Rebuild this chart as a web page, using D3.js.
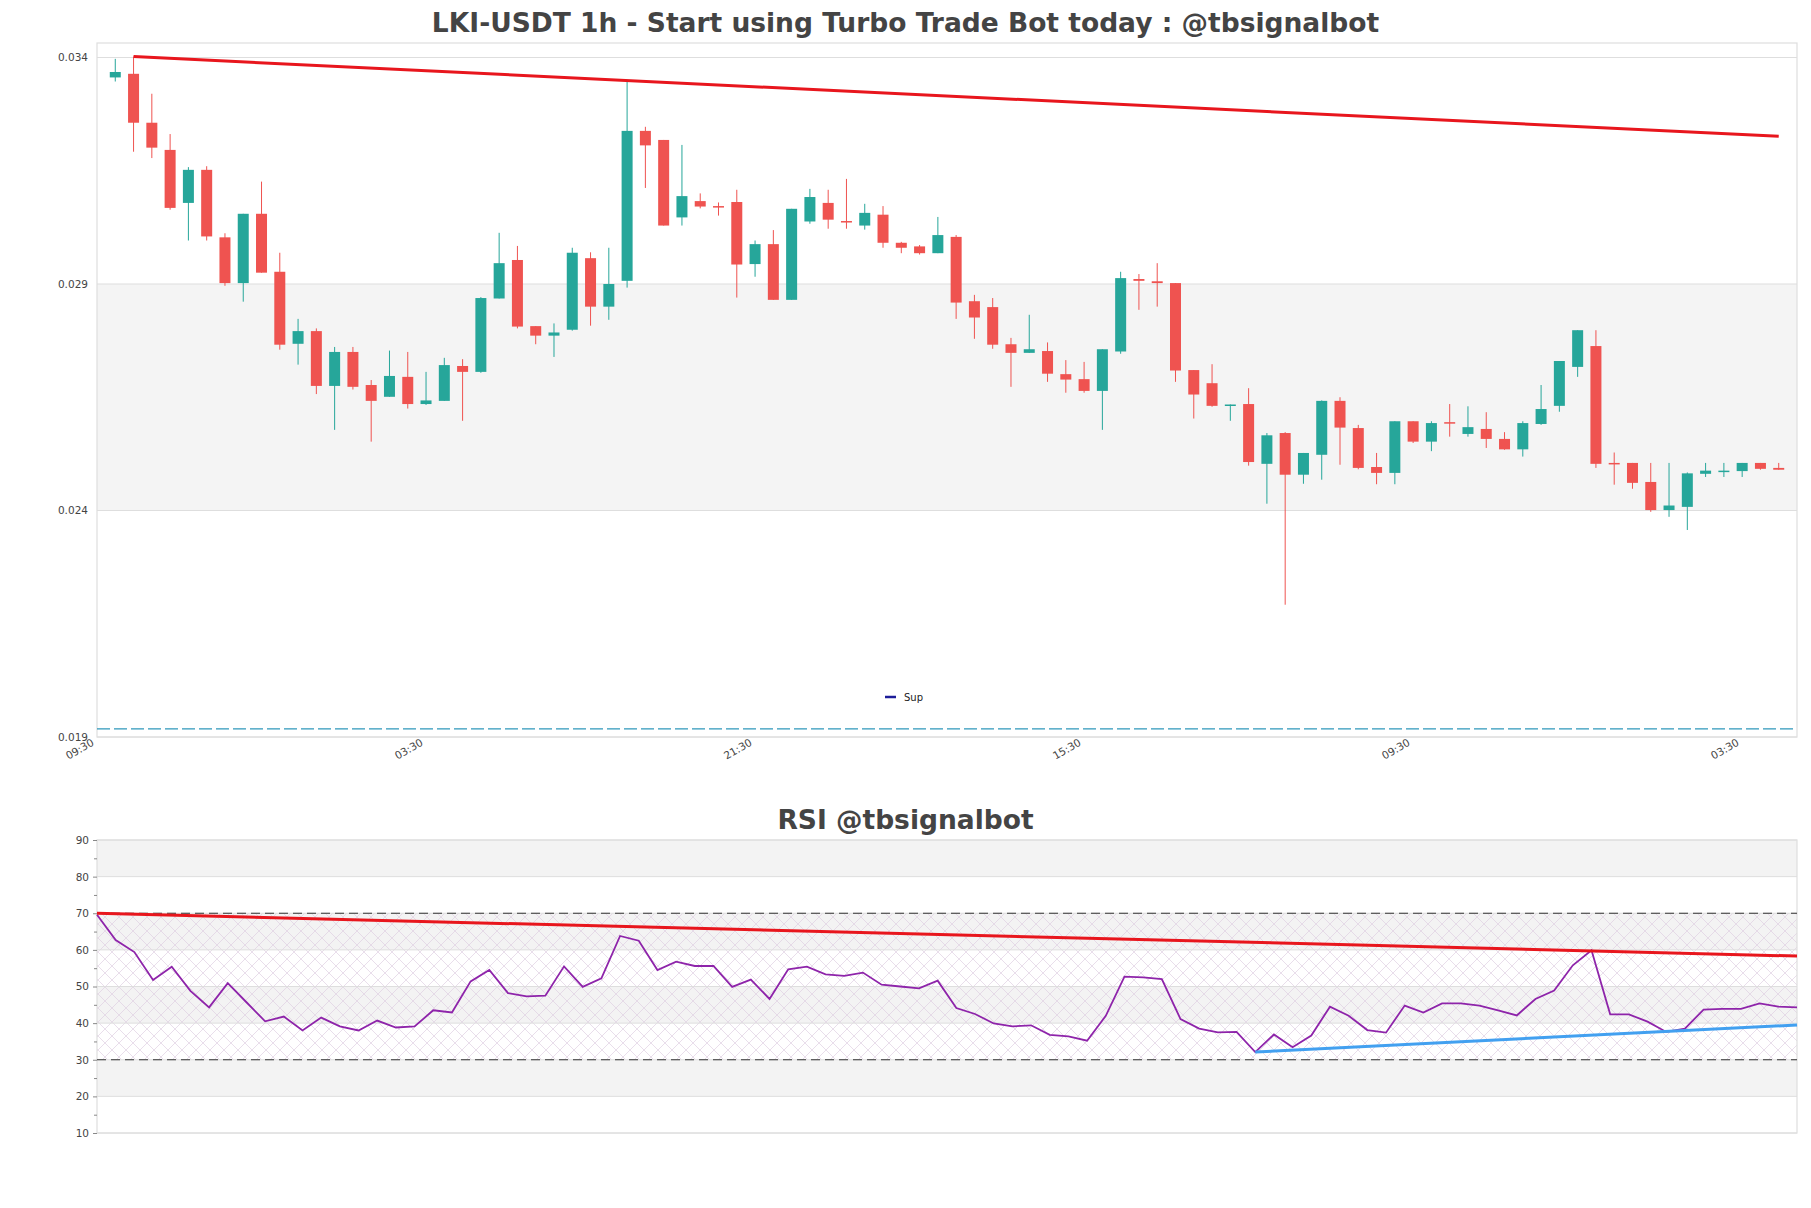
<!DOCTYPE html>
<html>
<head>
<meta charset="utf-8">
<script src="https://cdn.jsdelivr.net/npm/d3@7"></script>
<style>
    body { margin: 0; background: #fff; }
    svg { display: block; font-family: "DejaVu Sans", sans-serif; }
</style>
</head>
<body>
<svg id="chart" width="1811" height="1208"></svg>
<script>
'use strict';

// candle index 0 sits on the 09:30 tick, first candle is at index 1
let candleIndex = d3.range(1, 93)

let openPrices = [
    0.03356, 0.03364, 0.03256, 0.03196, 0.03079, 0.03152, 0.03003, 0.02902, 0.03055, 0.02927,
    0.02768, 0.02796, 0.02675, 0.02750, 0.02677, 0.02651, 0.02695, 0.02635, 0.02642, 0.02719,
    0.02706, 0.02868, 0.02953, 0.02807, 0.02786, 0.02799, 0.02957, 0.02850, 0.02907, 0.03238,
    0.03218, 0.03047, 0.03083, 0.03072, 0.03081, 0.02944, 0.02988, 0.02865, 0.03038, 0.03079,
    0.03039, 0.03029, 0.03053, 0.02991, 0.02983, 0.02968, 0.03004, 0.02862, 0.02849, 0.02767,
    0.02748, 0.02752, 0.02701, 0.02690, 0.02664, 0.02751, 0.02911, 0.02906, 0.02902, 0.02710,
    0.02681, 0.02632, 0.02635, 0.02503, 0.02571, 0.02479, 0.02523, 0.02642, 0.02582, 0.02496,
    0.02483, 0.02597, 0.02552, 0.02595, 0.02569, 0.02580, 0.02558, 0.02535, 0.02591, 0.02631,
    0.02717, 0.02763, 0.02505, 0.02505, 0.02463, 0.02401, 0.02408, 0.02481, 0.02485, 0.02487,
    0.02505, 0.02494
]
let highPrices = [
    0.03397, 0.03402, 0.03320, 0.03231, 0.03158, 0.03160, 0.03012, 0.03055, 0.03126, 0.02969,
    0.02823, 0.02802, 0.02761, 0.02761, 0.02688, 0.02753, 0.02750, 0.02706, 0.02737, 0.02734,
    0.02871, 0.03013, 0.02984, 0.02807, 0.02813, 0.02980, 0.02970, 0.02980, 0.03347, 0.03247,
    0.03218, 0.03207, 0.03100, 0.03080, 0.03108, 0.02996, 0.03019, 0.03066, 0.03110, 0.03108,
    0.03132, 0.03077, 0.03072, 0.02993, 0.02986, 0.03048, 0.03008, 0.02876, 0.02869, 0.02781,
    0.02832, 0.02771, 0.02732, 0.02728, 0.02756, 0.02927, 0.02922, 0.02946, 0.02902, 0.02710,
    0.02723, 0.02634, 0.02670, 0.02571, 0.02573, 0.02527, 0.02643, 0.02650, 0.02589, 0.02527,
    0.02597, 0.02597, 0.02597, 0.02635, 0.02630, 0.02617, 0.02573, 0.02597, 0.02677, 0.02730,
    0.02798, 0.02798, 0.02528, 0.02505, 0.02505, 0.02505, 0.02484, 0.02505, 0.02505, 0.02505,
    0.02505, 0.02505
]
let lowPrices = [
    0.03347, 0.03192, 0.03178, 0.03064, 0.02996, 0.02996, 0.02896, 0.02861, 0.02925, 0.02755,
    0.02722, 0.02657, 0.02578, 0.02667, 0.02552, 0.02651, 0.02625, 0.02633, 0.02642, 0.02598,
    0.02704, 0.02868, 0.02802, 0.02767, 0.02739, 0.02797, 0.02808, 0.02821, 0.02892, 0.03112,
    0.03029, 0.03029, 0.03067, 0.03051, 0.02870, 0.02916, 0.02865, 0.02865, 0.03033, 0.03022,
    0.03022, 0.03020, 0.02980, 0.02968, 0.02965, 0.02968, 0.02823, 0.02779, 0.02757, 0.02673,
    0.02748, 0.02684, 0.02660, 0.02660, 0.02578, 0.02746, 0.02843, 0.02850, 0.02684, 0.02603,
    0.02629, 0.02598, 0.02499, 0.02415, 0.02192, 0.02459, 0.02468, 0.02501, 0.02491, 0.02458,
    0.02458, 0.02549, 0.02531, 0.02563, 0.02563, 0.02538, 0.02534, 0.02519, 0.02589, 0.02618,
    0.02695, 0.02494, 0.02457, 0.02448, 0.02397, 0.02386, 0.02357, 0.02474, 0.02474, 0.02474,
    0.02490, 0.02490
]
let closePrices = [
    0.03368, 0.03256, 0.03201, 0.03068, 0.03152, 0.03005, 0.02902, 0.03055, 0.02925, 0.02766,
    0.02796, 0.02675, 0.02750, 0.02673, 0.02642, 0.02697, 0.02635, 0.02643, 0.02721, 0.02706,
    0.02869, 0.02946, 0.02806, 0.02786, 0.02793, 0.02969, 0.02850, 0.02900, 0.03238, 0.03206,
    0.03029, 0.03094, 0.03071, 0.03069, 0.02943, 0.02988, 0.02865, 0.03066, 0.03092, 0.03042,
    0.03036, 0.03057, 0.02991, 0.02980, 0.02968, 0.03008, 0.02859, 0.02826, 0.02766, 0.02748,
    0.02756, 0.02702, 0.02689, 0.02664, 0.02756, 0.02913, 0.02907, 0.02902, 0.02709, 0.02656,
    0.02631, 0.02634, 0.02507, 0.02566, 0.02479, 0.02527, 0.02642, 0.02583, 0.02494, 0.02483,
    0.02597, 0.02552, 0.02593, 0.02594, 0.02584, 0.02558, 0.02535, 0.02593, 0.02624, 0.02730,
    0.02798, 0.02503, 0.02503, 0.02461, 0.02401, 0.02411, 0.02482, 0.02488, 0.02488, 0.02505,
    0.02492, 0.02490
]

let rsiValues = [
    69.6, 62.7, 59.4, 51.8, 55.4, 48.8, 44.3, 50.9, 45.7, 40.5,
    41.8, 38.0, 41.5, 39.1, 38.0, 40.7, 38.8, 39.1, 43.5, 42.9,
    51.4, 54.5, 48.2, 47.3, 47.5, 55.5, 49.9, 52.2, 63.8, 62.5,
    54.5, 56.8, 55.6, 55.6, 49.9, 51.9, 46.6, 54.7, 55.4, 53.3,
    52.9, 53.8, 50.5, 50.0, 49.5, 51.6, 44.1, 42.5, 39.9, 39.1,
    39.4, 36.8, 36.4, 35.2, 42.0, 52.7, 52.5, 52.0, 41.1, 38.5,
    37.5, 37.6, 32.1, 36.9, 33.4, 36.6, 44.5, 42.0, 38.1, 37.4,
    44.8, 42.9, 45.4, 45.4, 44.8, 43.5, 42.1, 46.6, 48.9, 55.8,
    59.9, 42.4, 42.4, 40.4, 37.6, 38.5, 43.7, 43.9, 43.9, 45.4,
    44.5, 44.3
]

let xTickIndex = [0, 18, 36, 54, 72, 90]
let xTickLabels = ['09:30', '03:30', '21:30', '15:30', '09:30', '03:30']
let priceTicks = [0.019, 0.024, 0.029, 0.034]
let priceBand = [0.024, 0.029]
let supportLevel = 0.01918

// resistance line over the highs
let priceTrendX = [2, 92]
let priceTrendY = [0.03402, 0.03226]

let rsiTicks = [10, 20, 30, 40, 50, 60, 70, 80, 90]
let rsiBands = [[80, 90], [60, 70], [40, 50], [20, 30]]
let rsiLevels = [30, 70]
let rsiResistX = [0, 91]
let rsiResistY = [70, 58.3]
let rsiSupportX = [62, 91]
let rsiSupportY = [32.1, 39.5]

let upColor = '#26a69a'
let downColor = '#ef5350'
let gridColor = '#dedede'
let textColor = '#444'

let svg = d3.select('#chart')

let left = 97, right = 1797

function drawPriceChart() {
    let top = 43, bottom = 737
    let x = d3.scaleLinear().domain([0, 93]).range([left, right])
    let y = d3.scaleLinear().domain([0.019, 0.03432]).range([bottom, top])

    let g = svg.append('g')

    g.append('rect')
        .attr('x', left).attr('width', right - left)
        .attr('y', y(priceBand[1])).attr('height', y(priceBand[0]) - y(priceBand[1]))
        .attr('fill', '#f4f4f4')

    g.selectAll('.grid')
        .data(priceTicks)
        .enter().append('line')
        .attr('x1', left).attr('x2', right)
        .attr('y1', d => y(d)).attr('y2', d => y(d))
        .attr('stroke', gridColor).attr('stroke-width', 1)

    g.append('rect')
        .attr('x', left).attr('y', top)
        .attr('width', right - left).attr('height', bottom - top)
        .attr('fill', 'none').attr('stroke', gridColor).attr('stroke-width', 1.2)

    let yAxis = d3.axisLeft(y)
        .tickValues(priceTicks)
        .tickFormat(d3.format('.3f'))
        .tickSize(0)
        .tickPadding(9)
    g.append('g')
        .attr('transform', 'translate(' + left + ',0)')
        .call(yAxis)
        .call(a => a.select('.domain').remove())
        .selectAll('text')
        .attr('fill', textColor)
        .style('font-size', '10.5px')
        .style('font-family', '"DejaVu Sans", sans-serif')

    let xAxis = d3.axisBottom(x)
        .tickValues(xTickIndex)
        .tickFormat((d, i) => xTickLabels[i])
        .tickSize(0)
        .tickPadding(5)
    g.append('g')
        .attr('transform', 'translate(0,' + bottom + ')')
        .call(xAxis)
        .call(a => a.select('.domain').remove())
        .selectAll('text')
        .attr('fill', textColor)
        .style('font-size', '10.5px')
        .style('font-family', '"DejaVu Sans", sans-serif')
        .style('text-anchor', 'end')
        .attr('dy', '0.7em')
        .attr('transform', 'translate(-9,-3) rotate(-30)')

    // support level
    g.append('line')
        .attr('x1', left).attr('x2', right)
        .attr('y1', y(supportLevel)).attr('y2', y(supportLevel))
        .attr('stroke', '#2f98bb').attr('stroke-width', 1.3)
        .attr('stroke-dasharray', '13,4')

    let bodyWidth = 11
    let candles = g.append('g').attr('class', 'candles')
        .selectAll('g')
        .data(candleIndex)
        .enter().append('g')

    candles.append('line')
        .attr('x1', d => x(d)).attr('x2', d => x(d))
        .attr('y1', (d, i) => y(highPrices[i]))
        .attr('y2', (d, i) => y(lowPrices[i]))
        .attr('stroke', (d, i) => closePrices[i] >= openPrices[i] ? upColor : downColor)
        .attr('stroke-width', 1)

    candles.append('rect')
        .attr('x', d => x(d) - bodyWidth / 2)
        .attr('width', bodyWidth)
        .attr('y', (d, i) => y(Math.max(openPrices[i], closePrices[i])))
        .attr('height', (d, i) => Math.max(1.5, Math.abs(y(openPrices[i]) - y(closePrices[i]))))
        .attr('fill', (d, i) => closePrices[i] >= openPrices[i] ? upColor : downColor)

    g.append('line')
        .attr('x1', x(priceTrendX[0])).attr('y1', y(priceTrendY[0]))
        .attr('x2', x(priceTrendX[1])).attr('y2', y(priceTrendY[1]))
        .attr('stroke', '#e8161d').attr('stroke-width', 3)

    // legend
    let legend = g.append('g').attr('transform', 'translate(885,697)')
    legend.append('line')
        .attr('x1', 0).attr('x2', 11).attr('y1', 0).attr('y2', 0)
        .attr('stroke', '#1d1d99').attr('stroke-width', 2.5)
    legend.append('text')
        .attr('x', 19).attr('y', 3.5)
        .attr('font-size', '10px').attr('fill', '#222')
        .text('Sup')

    svg.append('text')
        .attr('x', 905.5).attr('y', 32)
        .attr('text-anchor', 'middle')
        .attr('font-size', '26.5px').attr('font-weight', 'bold')
        .attr('fill', textColor)
        .text('LKI-USDT 1h - Start using Turbo Trade Bot today : @tbsignalbot')
}

function drawRsiChart() {
    let top = 840, bottom = 1133
    let x = d3.scaleLinear().domain([0, rsiValues.length - 1]).range([left, right])
    let y = d3.scaleLinear().domain([10, 90]).range([bottom, top])

    let defs = svg.append('defs')
    let pattern = defs.append('pattern')
        .attr('id', 'rsi-hatch')
        .attr('patternUnits', 'userSpaceOnUse')
        .attr('width', 14).attr('height', 14)
    pattern.append('path')
        .attr('d', 'M0,0 L14,14 M14,0 L0,14')
        .attr('stroke', '#dfd0e3').attr('stroke-width', 0.7)

    let g = svg.append('g')

    g.selectAll('.band')
        .data(rsiBands)
        .enter().append('rect')
        .attr('x', left).attr('width', right - left)
        .attr('y', d => y(d[1])).attr('height', d => y(d[0]) - y(d[1]))
        .attr('fill', '#f3f3f3')

    g.append('rect')
        .attr('x', left).attr('width', right - left)
        .attr('y', y(rsiLevels[1])).attr('height', y(rsiLevels[0]) - y(rsiLevels[1]))
        .attr('fill', 'url(#rsi-hatch)')

    g.selectAll('.grid')
        .data(rsiTicks)
        .enter().append('line')
        .attr('x1', left).attr('x2', right)
        .attr('y1', d => y(d)).attr('y2', d => y(d))
        .attr('stroke', gridColor).attr('stroke-width', 1)

    g.append('rect')
        .attr('x', left).attr('y', top)
        .attr('width', right - left).attr('height', bottom - top)
        .attr('fill', 'none').attr('stroke', gridColor).attr('stroke-width', 1.2)

    let yAxis = d3.axisLeft(y)
        .tickValues(rsiTicks)
        .tickSize(4)
        .tickPadding(4)
    g.append('g')
        .attr('transform', 'translate(' + left + ',0)')
        .call(yAxis)
        .call(a => a.select('.domain').remove())
        .call(a => a.selectAll('line').attr('stroke', '#888'))
        .selectAll('text')
        .attr('fill', textColor)
        .style('font-size', '10.5px')
        .style('font-family', '"DejaVu Sans", sans-serif')

    let minorAxis = d3.axisLeft(y)
        .tickValues(d3.range(15, 90, 10))
        .tickSize(3)
        .tickFormat('')
    g.append('g')
        .attr('transform', 'translate(' + left + ',0)')
        .call(minorAxis)
        .call(a => a.select('.domain').remove())
        .call(a => a.selectAll('line').attr('stroke', '#888'))

    g.selectAll('.level')
        .data(rsiLevels)
        .enter().append('line')
        .attr('x1', left).attr('x2', right)
        .attr('y1', d => y(d)).attr('y2', d => y(d))
        .attr('stroke', '#333').attr('stroke-width', 1.2)
        .attr('stroke-dasharray', '9,5')

    let line = d3.line()
        .x((d, i) => x(i))
        .y(d => y(d))
    g.append('path')
        .datum(rsiValues)
        .attr('d', line)
        .attr('fill', 'none')
        .attr('stroke', '#8e24aa')
        .attr('stroke-width', 1.8)

    g.append('line')
        .attr('x1', x(rsiResistX[0])).attr('y1', y(rsiResistY[0]))
        .attr('x2', x(rsiResistX[1])).attr('y2', y(rsiResistY[1]))
        .attr('stroke', '#e8161d').attr('stroke-width', 3)

    g.append('line')
        .attr('x1', x(rsiSupportX[0])).attr('y1', y(rsiSupportY[0]))
        .attr('x2', x(rsiSupportX[1])).attr('y2', y(rsiSupportY[1]))
        .attr('stroke', '#42a0f0').attr('stroke-width', 3)

    svg.append('text')
        .attr('x', 905.5).attr('y', 829)
        .attr('text-anchor', 'middle')
        .attr('font-size', '26.5px').attr('font-weight', 'bold')
        .attr('fill', textColor)
        .text('RSI @tbsignalbot')
}

drawPriceChart()
drawRsiChart()
</script>
</body>
</html>
